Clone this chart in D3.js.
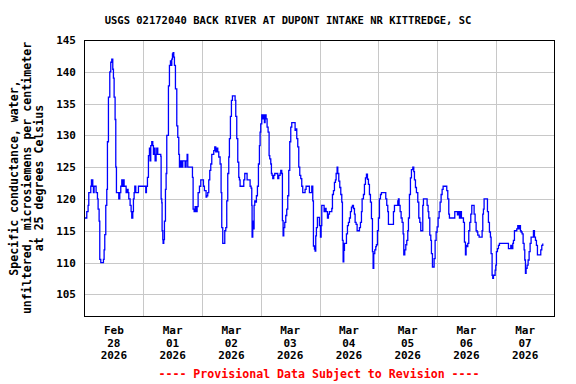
<!DOCTYPE html>
<html>
<head>
<meta charset="utf-8">
<script src="https://cdn.jsdelivr.net/npm/d3@7"></script>
<style>
  body { margin: 0; background: #fff; }
  svg text { font-family: "DejaVu Sans Mono", monospace; font-weight: bold; }
</style>
</head>
<body>
<div id="chart"></div>
<script>
const width = 576;
const height = 384;
const margin = { top: 40, right: 22, bottom: 68, left: 84 };

const title = "USGS 02172040 BACK RIVER AT DUPONT INTAKE NR KITTREDGE, SC";
const yLabelLines = ["Specific conductance, water,", "unfiltered, microsiemens per centimeter", "at 25 degrees Celsius"];
const footer = "---- Provisional Data Subject to Revision ----";
const yTicks = [105, 110, 115, 120, 125, 130, 135, 140, 145];
const startDate = Date.UTC(2026, 1, 28);
const endDate = Date.UTC(2026, 2, 8);

// hours since Feb 28 00:00
const hours = [
  0, 0.52, 0.93, 1.47, 1.75, 2.29, 2.56, 2.84, 3.38, 3.65, 3.92, 4.47, 4.74, 5.29, 5.56, 5.97, 6.24, 6.65, 7.33, 7.74,
  8.01, 8.28, 8.69, 9.10, 9.37, 9.78, 10.33, 10.73, 11.14, 11.55, 11.82, 12.10, 12.50, 12.78, 13.05, 13.73, 14.00, 14.41,
  14.82, 15.23, 15.64, 15.91, 16.18, 16.59, 17.00, 17.27, 17.81, 18.09, 18.63, 19.04, 19.31, 19.72, 19.99, 20.27, 20.54,
  20.95, 21.63, 22.04, 22.99, 24.35, 25.03, 25.30, 25.71, 26.12, 26.53, 26.80, 27.07, 27.48, 27.89, 28.16, 28.57, 28.84,
  29.25, 29.52, 29.93, 30.48, 31.16, 31.30, 31.57, 31.70, 31.98, 32.11, 32.38, 32.66, 33.07, 33.34, 33.61, 33.88, 34.29,
  34.70, 35.11, 35.38, 35.65, 35.93, 36.20, 36.47, 36.74, 37.15, 37.70, 38.10, 38.51, 38.79, 39.06, 39.33, 39.60, 39.87,
  40.15, 40.69, 41.10, 41.51, 41.92, 42.19, 43.41, 43.82, 44.10, 44.37, 44.78, 45.19, 45.59, 46.00, 46.41, 46.96, 47.50,
  48.18, 48.59, 48.99, 49.67, 49.94, 50.35, 50.76, 51.17, 51.58, 51.99, 52.39, 52.80, 53.21, 53.62, 54.03, 54.44, 54.85,
  55.39, 55.80, 56.07, 56.48, 57.02, 57.30, 57.71, 58.11, 58.52, 58.93, 59.20, 59.61, 60.02, 60.43, 61.25, 61.52, 61.79,
  62.20, 62.61, 63.02, 63.29, 63.56, 64.65, 65.06, 65.47, 66.28, 66.42, 67.37, 67.65, 68.05, 68.33, 68.46, 68.74, 69.01,
  69.28, 69.55, 69.82, 70.23, 70.64, 71.05, 71.46, 71.73, 72.00, 72.41, 72.82, 73.23, 73.50, 73.77, 74.18, 74.59, 75.00,
  75.41, 75.68, 76.09, 76.36, 76.63, 76.91, 77.31, 77.72, 78.54, 78.95, 79.36, 79.90, 80.17, 80.58, 80.85, 81.13, 81.40,
  81.81, 82.22, 82.62, 83.03, 83.44, 83.85, 84.26, 84.67, 85.76, 86.03, 86.30, 86.71, 87.12, 87.53, 87.94, 88.34, 88.75,
  89.16, 89.84, 90.11, 90.52, 91.61, 91.88, 92.43, 92.84, 93.25, 93.52, 93.93, 94.20, 94.47, 94.74, 95.15, 95.70, 95.97,
  96.39, 96.66, 96.93, 97.61, 97.88, 98.29, 98.70, 99.25, 99.65, 100.06, 100.74, 101.02, 101.29, 101.70, 102.11, 102.51,
  102.79, 103.19, 103.47, 103.88, 104.28, 104.69, 105.10, 105.37, 105.65, 105.92, 106.19, 106.60, 107.01, 107.42, 107.82,
  108.23, 108.64, 109.05, 109.46, 109.87, 110.28, 110.55, 110.96, 111.37, 111.91, 112.32, 112.73, 113.14, 113.41, 113.95,
  114.36, 114.77, 115.18, 115.59, 115.99, 116.40, 116.81, 117.22, 117.63, 117.90, 118.17, 118.58, 118.99, 119.26, 119.67,
  120.08, 120.49, 120.90, 121.31, 122.80, 123.07, 123.48, 123.89, 124.16, 125.94, 126.21, 126.62, 127.57, 127.98, 128.25,
  128.52, 128.93, 129.34, 129.75, 130.16, 130.43, 130.84, 131.25, 131.65, 132.06, 132.34, 132.74, 133.15, 133.56, 134.11,
  134.51, 134.79, 135.20, 135.60, 136.15, 136.56, 136.97, 137.37, 137.78, 138.19, 138.46, 139.55, 139.96, 140.37, 140.64,
  141.05, 141.46, 141.73, 142.14, 142.55, 142.82, 143.23, 143.64, 144.05, 144.45, 144.86, 145.27, 145.68, 146.09, 146.50,
  147.31, 147.99, 148.40, 148.81, 149.08, 150.99, 151.26, 151.81, 152.35, 152.76, 153.17, 153.58, 153.98, 154.39, 154.80,
  155.21, 155.62, 155.89, 156.16, 156.57, 156.98, 157.39, 157.80, 158.21, 158.75, 159.16, 159.57, 159.98, 160.38, 160.66,
  161.20, 162.02, 162.43, 162.70, 162.97, 163.24, 164.33, 164.61, 165.01, 165.42, 165.83, 166.10, 166.51, 166.78, 167.06,
  167.47, 167.74, 168.01, 168.28, 168.69, 169.10, 169.51, 172.91, 173.19, 173.60, 174.14, 174.55, 174.96, 175.23, 175.64,
  176.05, 176.59, 177.00, 177.41, 177.82, 178.09, 178.36, 178.77, 179.18, 179.59, 179.86, 180.13, 180.40, 180.81, 181.22,
  181.63, 182.04, 182.44, 182.99, 183.40, 183.81, 184.22, 184.62, 185.03, 186.12, 186.39, 186.80, 187.21
];

// specific conductance, uS/cm
const values = [
  117, 117, 118, 119, 121, 121, 122, 123, 122, 121, 122, 122, 121, 120, 118.4, 116.5, 110.5, 110, 110, 110.5,
  112, 114.4, 119, 121.5, 129, 136, 140, 141.5, 142, 140.4, 139, 136, 132.5, 125, 121, 121, 120, 121,
  122, 123, 122, 123, 122, 122, 121, 121.5, 121, 120, 119, 118, 117, 118, 120, 121, 122,
  121, 121, 122, 122, 122, 121, 122, 123.4, 126.8, 128, 126, 128.4, 129, 128.4, 127, 128, 126,
  127, 128, 127, 127, 126.7, 120, 119.4, 115, 113.6, 113, 113.6, 116.5, 121.5, 124, 130, 130, 137.8,
  141, 141.7, 141, 142, 142.8, 143, 142.3, 141, 137.3, 131.5, 129.7, 127, 125, 126, 125, 126, 125,
  126, 126, 125, 126, 127, 125, 125, 125, 123.4, 118.4, 118, 118.8, 118, 118.8, 121, 122, 123,
  123, 122, 121.3, 120.3, 120.5, 121, 123, 124.5, 125.5, 127, 127, 127.6, 128.2, 127.4, 128, 127.4, 126.6,
  125.5, 121, 115.5, 113, 113, 115, 115.5, 119.7, 124, 126.6, 129.5, 133, 135.5, 136.2, 136.2, 135.5, 133,
  129.5, 125.8, 123.4, 123, 122, 122, 123, 124, 124, 123, 123, 122, 121.7, 119, 114, 116.5, 115.3,
  119, 119.7, 119.5, 120.5, 122, 125.5, 128.4, 130.5, 131.8, 133.2, 132.6, 133.2, 132, 133.2, 132.6, 131.3, 130.5,
  126.8, 126.3, 125.5, 124, 123.7, 123.2, 123.7, 124, 124, 123.2, 123.7, 124, 124.5, 124, 116.6, 114.2, 115.5,
  116.3, 117.4, 118.4, 120.5, 124.5, 129, 131.3, 132, 132, 130.8, 131, 129.5, 128.2, 125, 123.7, 123.2, 122,
  121, 121, 121.5, 122, 122, 121, 121, 122, 119.7, 112.6, 112.1, 111.8, 114.2, 115.5, 117.1, 117.1, 115.8,
  114, 115.8, 119, 119, 118, 118.5, 118, 117, 117.6, 118, 118, 118.5, 120.7, 121.3, 122.6, 123,
  124, 125, 124, 122.8, 121.8, 120.7, 119.5, 113.5, 110.1, 111.9, 113, 113, 114.5, 115.8, 116.3,
  117, 118, 118.7, 119, 118.5, 117.6, 116.3, 116, 115, 115, 115.5, 116.3, 118, 120, 120.7,
  122.3, 123.3, 123.9, 123.1, 122.3, 120.7, 119.5, 116.9, 111.7, 109.1, 111.4, 112, 112.5, 112.8, 115,
  117, 120, 120.7, 121, 121, 120, 119, 118, 116, 116, 118, 119, 119, 119.7, 120,
  119, 118, 117, 116.3, 114.5, 111.2, 112, 112.8, 113.5, 115, 117, 120.7, 123.3, 124.6, 125,
  124.3, 123, 121.8, 121, 119.5, 117, 116.3, 115, 115, 119, 120, 120, 119, 118, 117,
  114.3, 113.5, 111.4, 109.3, 109.3, 110.6, 113.5, 114.8, 115.6, 117, 118, 119.5, 120.7, 121.5, 122,
  122, 121.3, 120, 117.6, 117, 117, 118, 118, 117.5, 118, 117, 118, 117, 117, 116.3,
  113.2, 111.2, 112.7, 112.5, 113, 115, 116.3, 117.6, 119, 119, 117.6, 116.3, 115, 114.8, 114.3,
  114, 114, 115, 117.6, 118.4, 120, 120, 118, 116.3, 114.8, 114, 111.4, 108, 107.5, 108,
  108, 108.8, 109.6, 111.7, 112.2, 112.7, 113, 113, 112.2, 112.2, 112.7, 112.2, 113, 113.5, 115,
  115, 115.3, 115.8, 115.3, 115.8, 115, 114.8, 114.5, 113, 112, 110.4, 108.3, 109.1, 109.6, 110.4,
  111.7, 113, 114, 114, 115, 114, 113.5, 112.7, 111.2, 111.2, 112, 112.7, 113
];

const data = hours.map((h, i) => ({ date: new Date(startDate + h * 3600e3), value: values[i] }));

const x = d3.scaleUtc()
  .domain([startDate, endDate])
  .range([margin.left + 0.5, width - margin.right + 0.5]);

const y = d3.scaleLinear()
  .domain([101.59, 145])
  .range([height - margin.bottom, margin.top]);

const svg = d3.select("#chart")
  .append("svg")
  .attr("width", width)
  .attr("height", height)
  .attr("viewBox", [0, 0, width, height]);

// gridlines
const days = d3.utcDay.range(d3.utcDay.offset(new Date(startDate), 1), new Date(endDate));
svg.append("g")
    .attr("stroke", "#c8c8c8")
    .attr("shape-rendering", "crispEdges")
  .selectAll("line.v")
  .data(days)
  .join("line")
    .attr("x1", d => Math.round(x(d)) + 0.5)
    .attr("x2", d => Math.round(x(d)) + 0.5)
    .attr("y1", margin.top)
    .attr("y2", height - margin.bottom);

svg.append("g")
    .attr("stroke", "#c8c8c8")
    .attr("shape-rendering", "crispEdges")
  .selectAll("line")
  .data(yTicks.slice(0, -1))
  .join("line")
    .attr("x1", margin.left)
    .attr("x2", width - margin.right)
    .attr("y1", d => Math.round(y(d)) + 0.5)
    .attr("y2", d => Math.round(y(d)) + 0.5);

// data line
svg.append("path")
  .datum(data)
  .attr("fill", "none")
  .attr("stroke", "#0000ff")
  .attr("stroke-width", 1.3)
  .attr("d", d3.line()
    .curve(d3.curveStepAfter)
    .x(d => x(d.date))
    .y(d => y(d.value)));

// frame
svg.append("rect")
  .attr("x", margin.left + 0.5)
  .attr("y", margin.top + 0.5)
  .attr("width", width - margin.left - margin.right)
  .attr("height", height - margin.top - margin.bottom)
  .attr("fill", "none")
  .attr("stroke", "#000")
  .attr("stroke-width", 1.2)
  .attr("shape-rendering", "crispEdges");

// y axis labels
svg.append("g")
  .attr("font-size", 11)
  .attr("text-anchor", "end")
  .selectAll("text")
  .data(yTicks)
  .join("text")
    .attr("x", margin.left - 8)
    .attr("y", d => y(d) + 4)
    .text(d => d);

// x axis labels at noon of each day
const noons = d3.utcDay.range(new Date(startDate), new Date(endDate)).map(d => d3.utcHour.offset(d, 12));
const fmt = [d3.utcFormat("%b"), d3.utcFormat("%d"), d3.utcFormat("%Y")];
const xl = svg.append("g")
  .attr("font-size", 11)
  .attr("text-anchor", "middle")
  .selectAll("text")
  .data(noons)
  .join("text")
    .attr("x", d => x(d))
    .attr("y", height - margin.bottom + 18);
fmt.forEach((f, i) => {
  xl.append("tspan")
    .attr("x", d => x(d))
    .attr("dy", i === 0 ? 0 : 12.7)
    .text(d => f(d));
});

// title
svg.append("text")
  .attr("x", width / 2)
  .attr("y", 24)
  .attr("text-anchor", "middle")
  .attr("font-size", 10.5)
  .text(title);

// y axis title
const yt = svg.append("text")
  .attr("transform", `translate(0,${(margin.top + height - margin.bottom) / 2}) rotate(-90)`)
  .attr("text-anchor", "middle")
  .attr("font-size", 11.6);
yLabelLines.forEach((t, i) => {
  yt.append("tspan")
    .attr("x", 0)
    .attr("y", 18 + i * 12.5)
    .text(t);
});

// footer
svg.append("text")
  .attr("x", (margin.left + width - margin.right) / 2)
  .attr("y", 378)
  .attr("text-anchor", "middle")
  .attr("font-size", 11.6)
  .attr("fill", "#ff0000")
  .text(footer);
</script>
</body>
</html>
